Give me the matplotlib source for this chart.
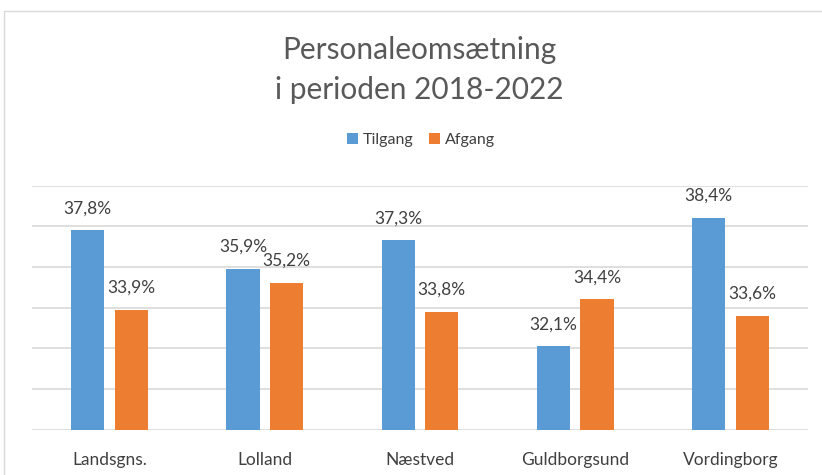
import matplotlib
matplotlib.use("Agg")
import matplotlib.pyplot as plt
import numpy as np
from matplotlib.patches import Rectangle

categories = ["Landsgns.", "Lolland", "Næstved", "Guldborgsund", "Vordingborg"]
tilgang = [37.8, 35.9, 37.3, 32.1, 38.4]
afgang = [33.9, 35.2, 33.8, 34.4, 33.6]
series_names = ["Tilgang", "Afgang"]
title_lines = ["Personaleomsætning", "i perioden 2018-2022"]

BLUE = "#5B9BD5"
ORANGE = "#ED7D31"
TXT = "#595959"
FONT = ["Lato", "DejaVu Sans"]

W, H = 822, 475
fig = plt.figure(figsize=(W / 100, H / 100), dpi=100)
fig.patch.set_facecolor("white")

# chart border
fig.patches.append(Rectangle((4 / W, 0 - 0.01), 1.0, 1 - 11 / H + 0.01, transform=fig.transFigure,
                             fill=False, edgecolor="#D9D9D9", linewidth=1.0))

ax = fig.add_axes([32 / W, 1 - 429.5 / H, (808 - 32) / W, (429.5 - 185.5) / H])
ax.set_xlim(-0.5, len(categories) - 0.5)
ax.set_ylim(28, 40)
for s in ax.spines.values():
    s.set_visible(False)
ax.set_yticks(np.arange(28, 41, 2))
ax.yaxis.grid(True, color="#D9D9D9", linewidth=1.2)
ax.set_axisbelow(True)
ax.tick_params(axis="y", left=False, labelleft=False)
ax.tick_params(axis="x", bottom=False, pad=13)

x = np.arange(len(categories))
bw = 0.215
off = bw / 2 + 0.033
b1 = ax.bar(x - off, tilgang, bw, bottom=0, color=BLUE, label=series_names[0], zorder=2)
b2 = ax.bar(x + off, afgang, bw, bottom=0, color=ORANGE, label=series_names[1], zorder=2)

for bars, vals in ((b1, tilgang), (b2, afgang)):
    for r, v in zip(bars, vals):
        ax.annotate(f"{v:.1f}%".replace(".", ","), (r.get_x() + r.get_width() / 2, v),
                    xytext=(0, 22), textcoords="offset pixels",
                    ha="center", va="center", fontsize=12.5, color="#404040", family=FONT)

ax.set_xticks(x)
ax.set_xticklabels(categories, fontsize=12.5, color="#404040", family=FONT)

fig.text(419 / W, 1 - 50 / H, title_lines[0], ha="center", va="center", fontsize=21.5,
         color=TXT, family=FONT)
fig.text(419 / W, 1 - 90 / H, title_lines[1], ha="center", va="center", fontsize=21.5,
         color=TXT, family=FONT)

leg = fig.legend(handles=[b1, b2], loc="center", bbox_to_anchor=(421 / W, 1 - 140 / H),
                 ncol=2, frameon=False, handlelength=0.7, handleheight=0.7,
                 handletextpad=0.3, columnspacing=1.0, prop={"family": FONT, "size": 11.5})
for t in leg.get_texts():
    t.set_color("#404040")

fig.savefig("out.png", dpi=100, facecolor="white")
